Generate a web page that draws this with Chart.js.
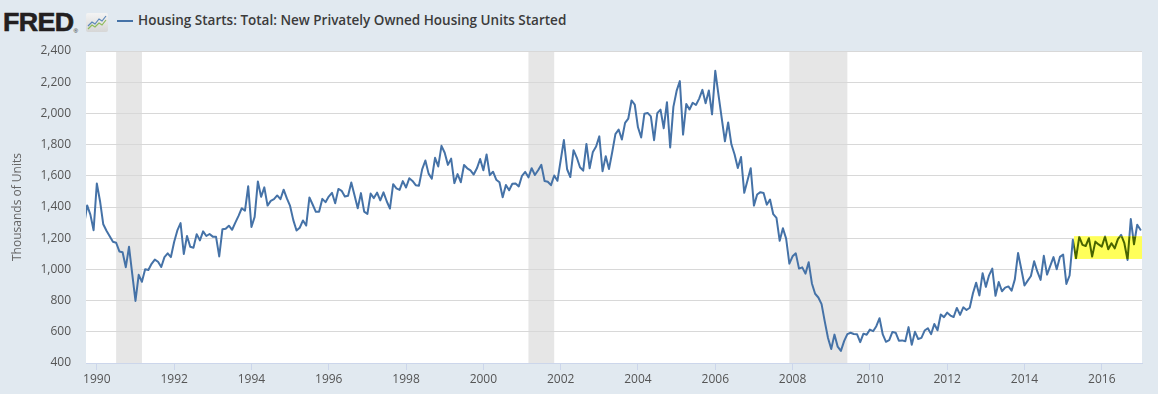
<!DOCTYPE html>
<html>
<head>
<meta charset="utf-8">
<script src="https://cdn.jsdelivr.net/npm/chart.js@4/dist/chart.umd.min.js"></script>
<style>
  html, body { margin: 0; padding: 0; }
  body { width: 1158px; height: 394px; background: #e1e9f0; position: relative; overflow: hidden; font-family: "Open Sans", sans-serif; }
  #chart { position: absolute; left: 0; top: 0; }
  .logo { position: absolute; left: 3px; top: 9px; font-family: "Liberation Sans", Arial, sans-serif; font-weight: 900; font-size: 26px; line-height: 26px; color: #231f20; letter-spacing: -0.6px; transform: scaleX(1.03); transform-origin: left top; -webkit-text-stroke: 0.6px #231f20; }
  .logo sup { font-size: 6px; font-weight: 400; vertical-align: -2px; -webkit-text-stroke: 0; }
  .icon { position: absolute; left: 86px; top: 13px; }
  .legline { position: absolute; left: 117px; top: 20px; width: 16px; height: 2px; background: #4572a7; }
  .legtext { position: absolute; left: 138px; top: 12px; font-size: 13.5px; line-height: 17px; font-weight: 600; color: #3b3b3b; white-space: nowrap; }
</style>
</head>
<body>
<div class="logo">FRED<sup>®</sup></div>
<svg class="icon" width="22" height="19" viewBox="0 0 22 19">
  <defs><linearGradient id="g" x1="0" y1="0" x2="0" y2="1"><stop offset="0" stop-color="#f4f4f4"/><stop offset="1" stop-color="#d6d6d6"/></linearGradient></defs>
  <rect x="0" y="0" width="22" height="19" rx="2" fill="url(#g)"/>
  <polyline points="2,13 6,9 9,11 13,6 16,8 20,3" fill="none" stroke="#5b86b8" stroke-width="1.2"/>
  <polyline points="2,16 6,12 9,14 13,10 16,12 20,7" fill="none" stroke="#8dba5a" stroke-width="1.2"/>
</svg>
<div class="legline"></div>
<div class="legtext">Housing Starts: Total: New Privately Owned Housing Units Started</div>
<canvas id="chart" width="1158" height="394"></canvas>
<script>
// ---- Data (thousands of units, SAAR), monthly from Sep 1989 to Jan 2017 ----
const seriesName = 'Housing Starts: Total: New Privately Owned Housing Units Started';
const startYear = 1989;
const startMonth = 8; // 0-based: September
const v1989 = [1279, 1410, 1351, 1251];
const v1990 = [1551, 1437, 1289, 1248, 1212, 1177, 1171, 1115, 1110, 1014, 1145, 969];
const v1991 = [798, 965, 921, 1001, 996, 1036, 1063, 1049, 1015, 1079, 1103, 1079];
const v1992 = [1176, 1250, 1297, 1099, 1214, 1145, 1139, 1226, 1186, 1244, 1214, 1227];
const v1993 = [1210, 1210, 1083, 1258, 1260, 1280, 1254, 1300, 1343, 1392, 1376, 1533];
const v1994 = [1272, 1337, 1564, 1465, 1526, 1409, 1439, 1450, 1474, 1450, 1511, 1455];
const v1995 = [1407, 1316, 1249, 1267, 1314, 1281, 1461, 1416, 1369, 1369, 1452, 1431];
const v1996 = [1467, 1491, 1424, 1516, 1504, 1467, 1472, 1557, 1475, 1392, 1489, 1370];
const v1997 = [1355, 1486, 1457, 1492, 1442, 1494, 1437, 1390, 1546, 1520, 1510, 1566];
const v1998 = [1525, 1584, 1567, 1540, 1536, 1641, 1698, 1614, 1582, 1715, 1660, 1792];
const v1999 = [1748, 1670, 1710, 1553, 1611, 1559, 1669, 1648, 1635, 1608, 1648, 1708];
const v2000 = [1636, 1737, 1604, 1626, 1575, 1559, 1463, 1541, 1507, 1549, 1551, 1532];
const v2001 = [1600, 1625, 1590, 1649, 1605, 1636, 1670, 1567, 1562, 1540, 1602, 1568];
const v2002 = [1698, 1829, 1642, 1592, 1764, 1717, 1655, 1633, 1804, 1648, 1753, 1788];
const v2003 = [1853, 1629, 1726, 1643, 1751, 1867, 1897, 1833, 1939, 1967, 2083, 2057];
const v2004 = [1911, 1846, 1998, 2003, 1981, 1828, 2002, 2024, 1905, 2072, 1782, 2042];
const v2005 = [2144, 2207, 1864, 2061, 2025, 2068, 2054, 2095, 2151, 2065, 2147, 1994];
const v2006 = [2273, 2119, 1969, 1821, 1942, 1802, 1737, 1650, 1720, 1491, 1570, 1649];
const v2007 = [1409, 1480, 1495, 1490, 1415, 1448, 1354, 1330, 1183, 1264, 1197, 1037];
const v2008 = [1084, 1103, 1005, 1013, 973, 1046, 910, 844, 820, 777, 665, 560];
const v2009 = [490, 582, 505, 478, 540, 585, 594, 586, 585, 534, 588, 581];
const v2010 = [614, 604, 636, 687, 583, 536, 546, 599, 594, 543, 545, 539];
const v2011 = [630, 517, 600, 554, 561, 608, 623, 585, 650, 610, 711, 694];
const v2012 = [723, 704, 695, 753, 708, 757, 740, 754, 847, 915, 833, 976];
const v2013 = [888, 962, 1005, 831, 919, 860, 883, 891, 863, 936, 1105, 1003];
const v2014 = [897, 928, 958, 1052, 985, 933, 1087, 967, 1023, 1079, 1001, 1080];
const v2015 = [1095, 907, 961, 1190, 1072, 1208, 1157, 1150, 1200, 1082, 1178, 1160];
const v2016 = [1146, 1211, 1129, 1168, 1135, 1194, 1221, 1168, 1060, 1323, 1161, 1286];
const v2017 = [1254];

const housingStarts = [].concat(v1989, v1990, v1991, v1992, v1993, v1994, v1995, v1996, v1997,
  v1998, v1999, v2000, v2001, v2002, v2003, v2004, v2005, v2006, v2007, v2008, v2009, v2010,
  v2011, v2012, v2013, v2014, v2015, v2016, v2017);

// Recessions (decimal years)
const recessionStarts = [1990.5, 2001.167, 2007.917];
const recessionEnds   = [1991.167, 2001.833, 2009.417];

// Highlighted region (decimal year start; value range)
const highlightStart = 2015.28;
const highlightLow = 1067;
const highlightHigh = 1213;

// Axes
const xMin = 1989.72, xMax = 2017.04;
const xTickYears  = [1990, 1992, 1994, 1996, 1998, 2000, 2002, 2004, 2006, 2008, 2010, 2012, 2014, 2016];
const xTickLabels = ['1990','1992','1994','1996','1998','2000','2002','2004','2006','2008','2010','2012','2014','2016'];
const yTickValues = [400, 600, 800, 1000, 1200, 1400, 1600, 1800, 2000, 2200, 2400];
const yTickLabels = ['400','600','800','1,000','1,200','1,400','1,600','1,800','2,000','2,200','2,400'];
const yTitle = 'Thousands of Units';

const points = housingStarts.map((v, i) => ({ x: startYear + (startMonth + i) / 12, y: v }));

const FONT = 'Open Sans';

const backgroundPlugin = {
  id: 'bgBands',
  beforeDraw(chart) {
    const { ctx, chartArea: a, scales: { x } } = chart;
    ctx.save();
    ctx.fillStyle = '#ffffff';
    ctx.fillRect(a.left, a.top, a.right - a.left, a.bottom - a.top);
    ctx.fillStyle = '#e6e6e6';
    recessionStarts.forEach((s, i) => {
      const x0 = x.getPixelForValue(s), x1 = x.getPixelForValue(recessionEnds[i]);
      ctx.fillRect(x0, a.top, x1 - x0, a.bottom - a.top);
    });
    ctx.restore();
  }
};

const highlightPlugin = {
  id: 'highlight',
  afterDatasetsDraw(chart) {
    const { ctx, chartArea: a, scales: { x, y } } = chart;
    const x0 = x.getPixelForValue(highlightStart);
    const y0 = y.getPixelForValue(highlightHigh), y1 = y.getPixelForValue(highlightLow);
    ctx.save();
    ctx.fillStyle = 'rgb(255,255,90)';
    ctx.fillRect(x0, y0, a.right - x0, y1 - y0);
    ctx.beginPath();
    ctx.rect(x0, y0, a.right - x0, y1 - y0);
    ctx.clip();
    const el = chart.getDatasetMeta(0).dataset;
    const saved = el.options;
    el.options = Object.assign({}, saved, { borderColor: '#486400' });
    el.draw(ctx, a);
    el.options = saved;
    ctx.restore();
  }
};

new Chart(document.getElementById('chart'), {
  type: 'line',
  data: {
    datasets: [{
      label: seriesName,
      data: points,
      borderColor: '#4572a7',
      borderWidth: 2,
      borderJoinStyle: 'round',
      borderCapStyle: 'round',
      pointRadius: 0,
      tension: 0,
      fill: false
    }]
  },
  options: {
    responsive: false,
    animation: false,
    events: [],
    layout: { padding: { top: 51, right: 16, left: 0, bottom: 0 } },
    plugins: { legend: { display: false }, tooltip: { enabled: false } },
    scales: {
      x: {
        type: 'linear', min: xMin, max: xMax,
        afterBuildTicks: s => { s.ticks = xTickYears.map(v => ({ value: v })); },
        afterFit: s => { s.height = 31; },
        grid: { drawOnChartArea: false, drawTicks: true, tickLength: 7, color: '#ccd6eb' },
        border: { display: true, color: '#ccd6eb' },
        ticks: { padding: 2, color: '#555', font: { family: FONT, size: 12 }, maxRotation: 0, autoSkip: false,
                 callback: (v, i) => xTickLabels[i] }
      },
      y: {
        min: 400, max: 2400,
        afterBuildTicks: s => { s.ticks = yTickValues.map(v => ({ value: v })); },
        afterFit: s => { s.width = 86; },
        grid: { color: '#d8d8d8', drawTicks: false },
        border: { display: false },
        ticks: { padding: 15, color: '#555', font: { family: FONT, size: 12 }, callback: (v, i) => yTickLabels[i] },
        title: { display: true, text: yTitle, color: '#666', font: { family: FONT, size: 12 }, padding: { top: 10, bottom: 0 } }
      }
    }
  },
  plugins: [backgroundPlugin, highlightPlugin]
});
</script>
</body>
</html>
